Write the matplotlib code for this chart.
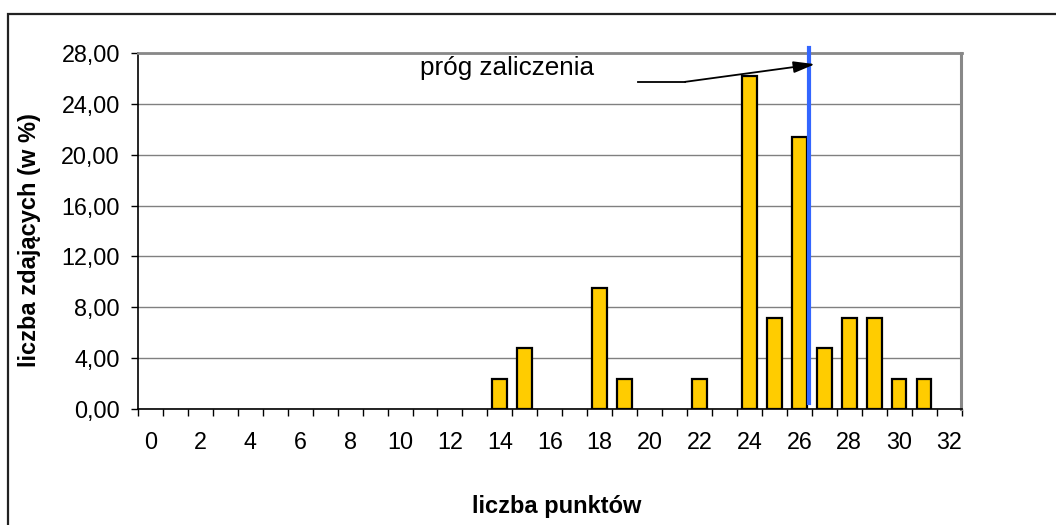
import matplotlib
matplotlib.use("Agg")
import matplotlib.pyplot as plt
from matplotlib.patches import Rectangle
import numpy as np

plt.rcParams['font.family'] = ['Liberation Sans', 'DejaVu Sans']

# Score distribution (percentage of students per number of points)
points = list(range(0, 33))
pct_points = [14, 15, 18, 19, 22, 24, 25, 26, 27, 28, 29, 30, 31]
pct_values = [2.38, 4.76, 9.52, 2.38, 2.38, 26.19, 7.14, 21.43, 4.76, 7.14, 7.14, 2.38, 2.38]
y_ticks = [0, 4, 8, 12, 16, 20, 24, 28]
x_labels = [str(p) for p in points[::2]]

pass_threshold = 26.4
annotation = "próg zaliczenia"

fig = plt.figure(figsize=(10.56, 5.25), dpi=100)

# outer chart frame
fig.patches.append(Rectangle((8 / 1056, -0.1), 1.2, (525 - 14) / 525 + 0.1,
                             transform=fig.transFigure, fill=False,
                             edgecolor='#222222', linewidth=1.6, zorder=0))

ax = fig.add_axes([138 / 1056, 116 / 525, (961.5 - 138) / 1056, 356 / 525])

ax.bar(pct_points, pct_values, width=0.59, color='#FFCC00',
       edgecolor='black', linewidth=1.6, zorder=3)

ax.set_xlim(-0.5, 32.5)
ax.set_ylim(0, 28)

ax.set_yticks(y_ticks)
ax.set_yticklabels([f"{v:.2f}".replace('.', ',') for v in y_ticks], fontsize=16.8)
ax.set_xticks(points[::2])
ax.set_xticklabels(x_labels, fontsize=16.8)
ax.tick_params(axis='x', length=0, pad=16)
ax.set_xticks(np.arange(-0.5, 33, 1), minor=True)
ax.tick_params(axis='x', which='minor', length=5, width=1, color='black')
ax.tick_params(axis='y', length=5, width=1, pad=8)

ax.yaxis.grid(True, color='#808080', linewidth=1)
ax.set_axisbelow(True)

ax.spines['left'].set_color('black')
ax.spines['bottom'].set_color('black')
ax.spines['left'].set_linewidth(1.2)
ax.spines['bottom'].set_linewidth(1.2)
ax.spines['top'].set_color('#888888')
ax.spines['right'].set_color('#888888')
ax.spines['top'].set_linewidth(2)
ax.spines['right'].set_linewidth(2.2)

# axis titles
fig.text(30 / 1056, 1 - 240 / 525, "liczba zdających (w %)", fontsize=17,
         fontweight='bold', rotation=90, ha='center', va='center')
fig.text(557 / 1056, 1 - 507 / 525, "liczba punktów", fontsize=17,
         fontweight='bold', ha='center', va='center')

# passing threshold line
ax.plot([pass_threshold, pass_threshold], [0.5, 28.4], color='#3366FF',
        linewidth=3, zorder=4, clip_on=False)

# annotation with a bent arrow
ax.text(10.8, 26.85, annotation, fontsize=18.8, ha='left', va='center')
ax.plot([19.54, 21.42], [25.73, 25.73], color='black', linewidth=1.3, zorder=5)
ax.annotate("", xy=(26.63, 27.12), xytext=(21.42, 25.73),
            arrowprops=dict(arrowstyle='-|>,head_length=1.3,head_width=0.35',
                            color='black', linewidth=1.3, shrinkA=0, shrinkB=0),
            zorder=5)

fig.savefig("out.png", dpi=100)
